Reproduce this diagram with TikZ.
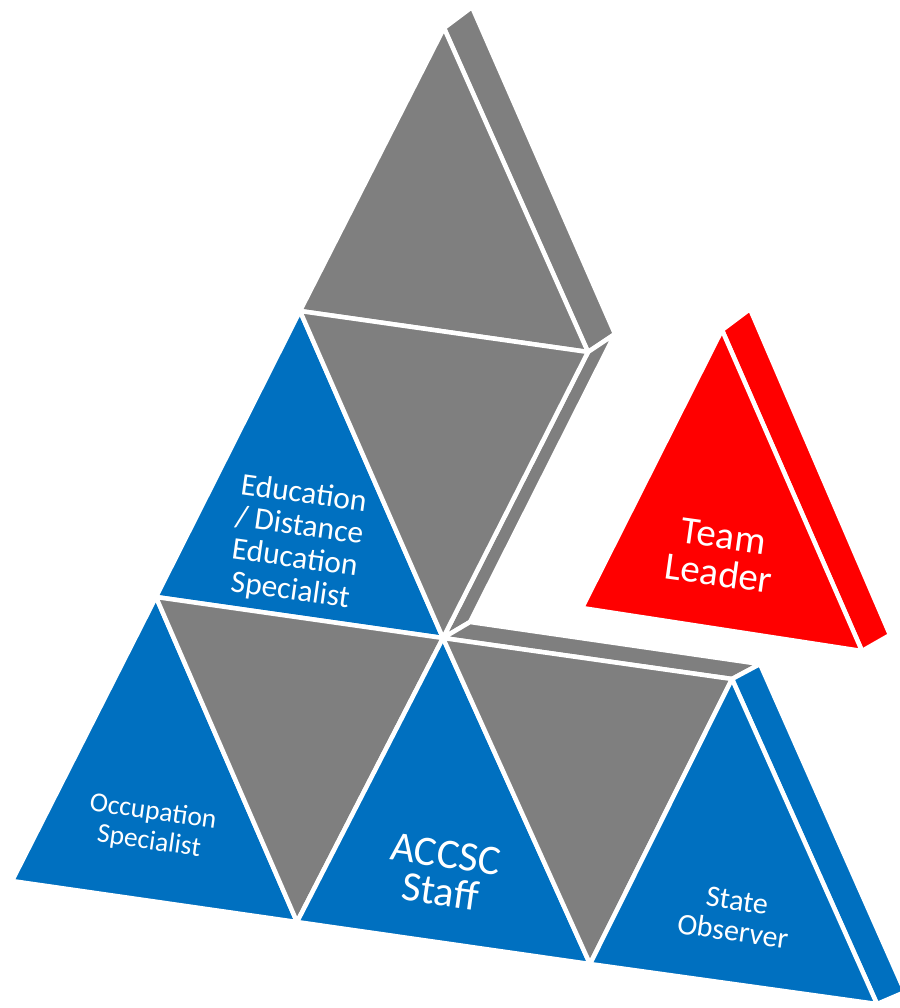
\documentclass[tikz,border=0pt]{standalone}
\usepackage{fontspec}
\setmainfont{Carlito}
\definecolor{pblue}{HTML}{0070C0}
\definecolor{pgray}{HTML}{7F7F7F}
\definecolor{pred}{HTML}{FF0000}
\begin{document}
\begin{tikzpicture}[x=1pt,y=-1pt,
  face/.style={draw=white, line width=4.5pt, line join=round},
  lbl/.style={text=white, align=center, rotate=-8, inner sep=0pt}]
\useasboundingbox (0,0) rectangle (899,1008);
% lattice points of the front faces
\coordinate (P00) at (444,28);
\coordinate (P10) at (300,311);
\coordinate (P11) at (588,352);
\coordinate (P20) at (156,597);
\coordinate (P21) at (443,638);
\coordinate (P22) at (732,679);
\coordinate (P30) at (12,881);
\coordinate (P31) at (297,922);
\coordinate (P32) at (590,964);
\coordinate (P33) at (877,1004);
% depth points
\coordinate (P00d) at (472,7);
\coordinate (P11d) at (615,334);
\coordinate (P21d) at (470,622);
\coordinate (P22d) at (760,664);
\coordinate (P33d) at (905,992);
% team leader
\coordinate (T0) at (722,330);
\coordinate (TL) at (582,608);
\coordinate (TR) at (862,651);
\coordinate (T0d) at (750,309);
\coordinate (TRd) at (890,635);
% side faces
\filldraw[face, fill=pgray] (P00) -- (P00d) -- (P11d) -- (P11) -- cycle;
\filldraw[face, fill=pgray] (P11) -- (P11d) -- (P21d) -- (P21) -- cycle;
\filldraw[face, fill=pgray] (P21) -- (P21d) -- (P22d) -- (P22) -- cycle;
\filldraw[face, fill=pblue] (P22) -- (P22d) -- (P33d) -- (P33) -- cycle;
\filldraw[face, fill=pred] (T0) -- (T0d) -- (TRd) -- (TR) -- cycle;
% front faces
\filldraw[face, fill=pgray] (P00) -- (P10) -- (P11) -- cycle;
\filldraw[face, fill=pblue] (P10) -- (P20) -- (P21) -- cycle;
\filldraw[face, fill=pgray] (P10) -- (P11) -- (P21) -- cycle;
\filldraw[face, fill=pblue] (P20) -- (P30) -- (P31) -- cycle;
\filldraw[face, fill=pgray] (P20) -- (P21) -- (P31) -- cycle;
\filldraw[face, fill=pblue] (P21) -- (P31) -- (P32) -- cycle;
\filldraw[face, fill=pgray] (P21) -- (P22) -- (P32) -- cycle;
\filldraw[face, fill=pblue] (P22) -- (P32) -- (P33) -- cycle;
\filldraw[face, fill=pred] (T0) -- (TL) -- (TR) -- cycle;
% labels
\node[lbl, font=\fontsize{31.5}{32.5}\selectfont] (edu) at (297,543) {Education\\/ Distance\\Education\\Specialist};
\node[lbl, font=\fontsize{27.5}{30}\selectfont] (occ) at (151,827) {Occupation\\Specialist};
\node[lbl, font=\fontsize{42}{38}\selectfont] (acc) at (443,873) {ACCSC\\Staff};
\node[lbl, font=\fontsize{30}{31}\selectfont] (sta) at (735,916) {State\\Observer};
\node[lbl, font=\fontsize{39}{38}\selectfont] (tl) at (721,555) {Team\\Leader};
\end{tikzpicture}
\end{document}
